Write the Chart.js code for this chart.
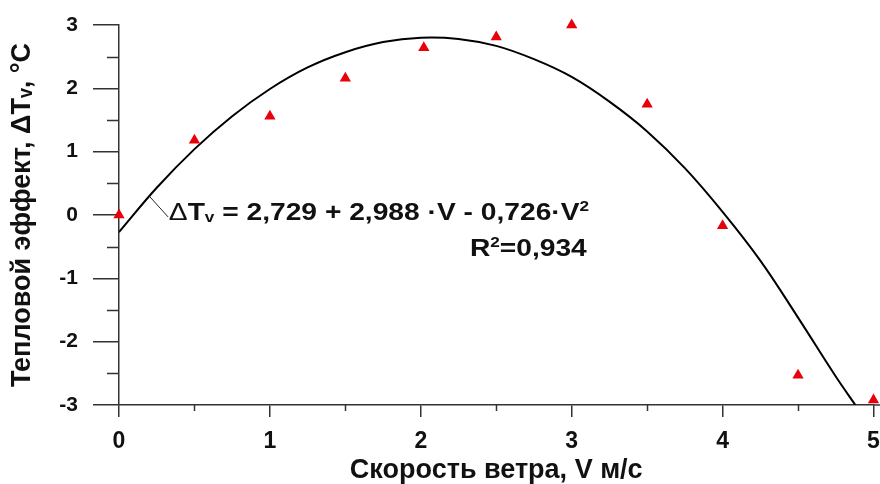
<!DOCTYPE html>
<html><head><meta charset="utf-8">
<script src="https://cdn.jsdelivr.net/npm/chart.js@4/dist/chart.umd.min.js"></script>
<style>html,body{margin:0;padding:0;background:#fff}#wrap{width:880px;height:484px}</style>
</head><body><div id="wrap"><canvas id="c" width="880" height="484"></canvas></div>
<script>
// Measured points
const windSpeed  = [0, 0.5, 1, 1.5, 2.02, 2.5, 3, 3.5, 4, 4.5, 5];
const heatEffect = [0.0, 1.18, 1.56, 2.16, 2.64, 2.81, 3.0, 1.75, -0.17, -2.53, -2.92];
// Trend curve
const fitSpeed  = [0, 0.25, 0.5, 0.75, 1, 1.25, 1.5, 1.75, 2, 2.25, 2.5, 2.75, 3, 3.25, 3.5, 3.75, 4, 4.25, 4.5, 4.75, 4.88];
const fitEffect = [-0.27, 0.43, 1.04, 1.56, 1.99, 2.33, 2.57, 2.73, 2.80, 2.78, 2.67, 2.46, 2.18, 1.79, 1.32, 0.74, 0.05, -0.72, -1.62, -2.55, -3.0];
// Ticks
const xMinorTicks = [0.5, 1.5, 2.5, 3.5, 4.5];
const yMinorTicks = [-2.5, -1.5, -0.5, 0.5, 1.5, 2.5];
// Texts
const xTitle = 'Скорость ветра, V м/с';
const yTitle = 'Тепловой эффект, ΔTᵥ, °C';
const eqMain = ' = 2,729 + 2,988 ·V - 0,726·V';
const r2Label = 'R';
const r2Value = '=0,934';

const narrow = "'Liberation Sans Narrow', 'Arial Narrow', 'Liberation Sans', Arial, sans-serif";
const sans = "'Liberation Sans', Arial, sans-serif";
const axisColor = '#333';

const minorTicks = {
  id: 'minorTicks',
  afterDraw(chart) {
    const {ctx, scales: {x, y}} = chart;
    ctx.save();
    ctx.strokeStyle = axisColor; ctx.lineWidth = 1.5;
    ctx.beginPath();
    xMinorTicks.forEach(v => { const p = Math.round(x.getPixelForValue(v)) + 0.5; ctx.moveTo(p, x.top); ctx.lineTo(p, x.top + 6); });
    yMinorTicks.forEach(v => { const p = Math.round(y.getPixelForValue(v)) + 0.5; ctx.moveTo(y.right - 12, p); ctx.lineTo(y.right, p); });
    // axis line continues to the right edge
    ctx.moveTo(x.right, x.top); ctx.lineTo(chart.width, x.top);
    ctx.stroke();
    ctx.restore();
  }
};

const equation = {
  id: 'equation',
  afterDatasetsDraw(chart) {
    const {ctx, scales: {x, y}} = chart;
    ctx.save();
    // leader line
    ctx.strokeStyle = '#222'; ctx.lineWidth = 1;
    ctx.beginPath();
    ctx.moveTo(x.getPixelForValue(0.2), y.getPixelForValue(0.30));
    ctx.lineTo(x.getPixelForValue(0.325), y.getPixelForValue(-0.03));
    ctx.stroke();

    const big = 'bold 23px ' + sans, small = 'bold 14px ' + sans, delta = '23px ' + sans;
    const pieces = [
      {t: 'Δ', f: delta, dy: 0},
      {t: 'T', f: big, dy: 0},
      {t: 'v', f: small, dy: 2},
      {t: eqMain, f: big, dy: 0},
      {t: '2', f: small, dy: -9}
    ];
    let natural = 0;
    pieces.forEach(p => { ctx.font = p.f; p.w = ctx.measureText(p.t).width; natural += p.w; });
    const x0 = x.getPixelForValue(0.33), x1 = x.getPixelForValue(3.115);
    const sx = (x1 - x0) / natural;
    ctx.fillStyle = '#111'; ctx.textBaseline = 'alphabetic'; ctx.textAlign = 'left';
    ctx.save();
    ctx.translate(x0, y.getPixelForValue(-0.08));
    ctx.scale(sx, 1);
    let cx = 0;
    pieces.forEach(p => { ctx.font = p.f; ctx.fillText(p.t, cx, p.dy); cx += p.w; });
    ctx.restore();
    // R² line, right aligned
    const r2 = [
      {t: r2Label, f: big, dy: 0},
      {t: '2', f: small, dy: -9},
      {t: r2Value, f: big, dy: 0}
    ];
    let w2 = 0;
    r2.forEach(p => { ctx.font = p.f; p.w = ctx.measureText(p.t).width; w2 += p.w; });
    ctx.save();
    ctx.translate(x.getPixelForValue(3.1) - w2 * sx, y.getPixelForValue(-0.65));
    ctx.scale(sx, 1);
    cx = 0;
    r2.forEach(p => { ctx.font = p.f; ctx.fillText(p.t, cx, p.dy); cx += p.w; });
    ctx.restore();
    ctx.restore();
  }
};

new Chart(document.getElementById('c'), {
  type: 'scatter',
  data: {
    datasets: [
      {
        label: 'points',
        data: windSpeed.map((v, i) => ({x: v, y: heatEffect[i]})),
        pointStyle: 'triangle',
        pointRadius: 6.5,
        pointBackgroundColor: '#e8000b',
        pointBorderWidth: 0,
        showLine: false,
        clip: false
      },
      {
        label: 'fit',
        data: fitSpeed.map((v, i) => ({x: v, y: fitEffect[i]})),
        showLine: true,
        borderColor: '#000',
        borderWidth: 2,
        pointRadius: 0,
        tension: 0.4,
        fill: false
      }
    ]
  },
  options: {
    responsive: false,
    animation: false,
    layout: {padding: {top: 25, right: 3, left: 0, bottom: 0}},
    plugins: {legend: {display: false}, tooltip: {enabled: false}},
    scales: {
      x: {
        type: 'linear', min: 0, max: 5,
        border: {display: true, color: axisColor, width: 1.5},
        grid: {display: true, drawOnChartArea: false, drawTicks: true, tickLength: 12, color: axisColor, lineWidth: 1.5},
        ticks: {stepSize: 1, padding: 11, color: '#111', font: {family: narrow, size: 23, weight: 'bold'}},
        title: {display: true, text: xTitle, color: '#111', font: {family: sans, size: 27, weight: 'bold', lineHeight: 1}, padding: {top: 0, bottom: 0}},
        afterFit(s) { s.height = 79; s.paddingLeft = 0; s.paddingRight = 0; }
      },
      y: {
        type: 'linear', min: -3, max: 3,
        border: {display: true, color: axisColor, width: 1.5},
        grid: {display: true, drawOnChartArea: false, drawTicks: true, tickLength: 26, color: axisColor, lineWidth: 1.5},
        ticks: {stepSize: 1, padding: 15, color: '#111', font: {family: narrow, size: 21, weight: 'bold'}},
        title: {display: true, text: yTitle, color: '#111', font: {family: sans, size: 27, weight: 'bold', lineHeight: 1}, padding: {top: 9, bottom: 0}},
        afterFit(s) { s.width = 119; s.paddingTop = 0; s.paddingBottom = 0; }
      }
    }
  },
  plugins: [minorTicks, equation]
});
</script>
</body></html>
